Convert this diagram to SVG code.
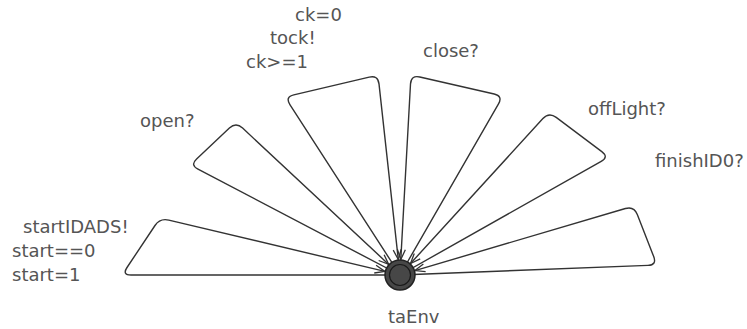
<svg xmlns="http://www.w3.org/2000/svg" width="747" height="329" viewBox="0 0 747 329">
<style>
.e{fill:none;stroke:#333;stroke-width:1.4;stroke-linejoin:round}
.t{font-family:"DejaVu Sans",Verdana,sans-serif;font-size:18px;fill:#555}
</style>
<defs>
<marker id="arr" markerUnits="userSpaceOnUse" markerWidth="14" markerHeight="12" refX="11" refY="5" orient="auto" viewBox="0 0 14 10">
<path d="M1,1 L11,5 L1,9" fill="none" stroke="#333" stroke-width="1.3"/>
</marker>
</defs>
<rect width="747" height="329" fill="#fff"/>
<g id="connectors">
<g id="e-startIDADS">
<path class="e" marker-end="url(#arr)" d="M400,275 L131,275 Q122,275 127,267.5 L155,225.5 Q160,218 168.8,220.1 L384.9,271.4"/>
<text class="t" x="23" y="233">startIDADS!</text>
<text class="t" x="12" y="257">start==0</text>
<text class="t" x="12" y="281">start=1</text>
</g>
<g id="e-open">
<path class="e" marker-end="url(#arr)" d="M400,275 L198,169.2 Q190,165 196.6,158.9 L229.4,128.1 Q236,122 242.6,128.1 L388.7,264.4"/>
<text class="t" x="140" y="127">open?</text>
</g>
<g id="e-tock">
<path class="e" marker-end="url(#arr)" d="M400,275 L289.9,104.6 Q285,97 293.8,94.9 L369.2,77.1 Q378,75 379,83.9 L398.3,259.6"/>
<text class="t" x="295" y="21">ck=0</text>
<text class="t" x="270" y="44">tock!</text>
<text class="t" x="246" y="68">ck&gt;=1</text>
</g>
<g id="e-close">
<path class="e" marker-end="url(#arr)" d="M400,275 L498.5,103.8 Q503,96 494.2,94 L419.8,77 Q411,75 410.5,84 L400.8,259.5"/>
<text class="t" x="423" y="57">close?</text>
</g>
<g id="e-offLight">
<path class="e" marker-end="url(#arr)" d="M400,275 L601.2,161.4 Q609,157 601.8,151.6 L556.2,117.4 Q549,112 542.9,118.6 L410.5,263.5"/>
<text class="t" x="588" y="115">offLight?</text>
</g>
<g id="e-finish">
<path class="e" marker-end="url(#arr)" d="M400,275 L648,265.4 Q657,265 653.7,256.6 L637.3,214.4 Q634,206 625.4,208.5 L414.9,270.6"/>
<text class="t" x="655" y="167">finishID0?</text>
</g>
</g>
<g id="taEnv">
<circle cx="400" cy="275" r="15" fill="#474747" stroke="#222" stroke-width="1.5"/>
<circle cx="400" cy="275" r="10.5" fill="none" stroke="#1a1a1a" stroke-width="1.2"/>
<text class="t" x="388" y="323">taEnv</text>
</g>
</svg>
